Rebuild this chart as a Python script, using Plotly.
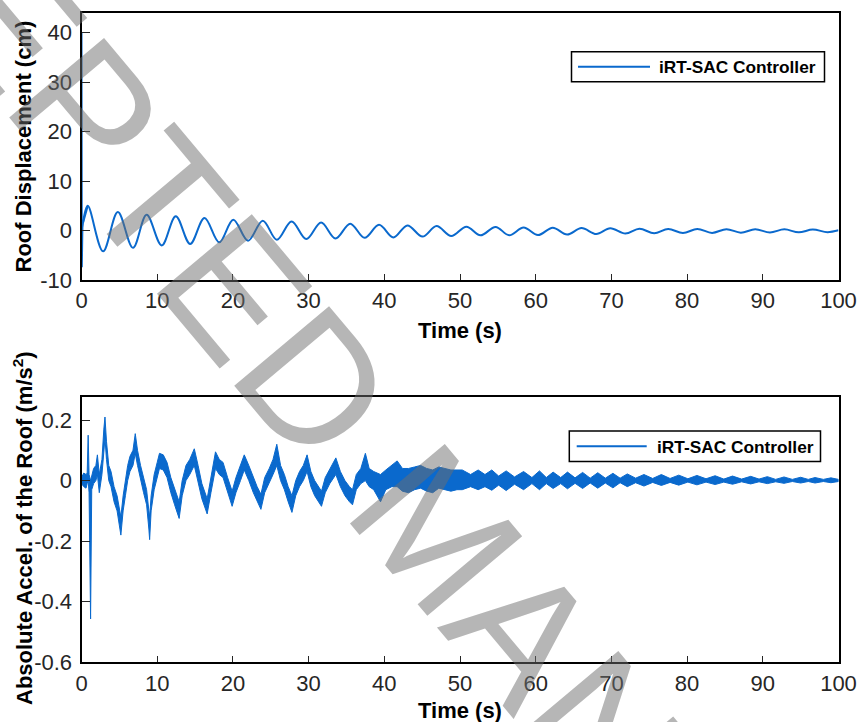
import plotly.graph_objects as go

W, H = 860, 722

# ---- Roof displacement (cm): initial spike, then alternating peaks / troughs
disp_t = [0.0, 0.04, 0.12, 0.2,
          0.83, 2.85, 4.8, 6.8, 8.6, 10.6, 12.45, 14.35, 16.25, 18.2,
          20.05, 22.0, 23.95, 25.8, 27.75, 29.7, 31.65, 33.55, 35.5, 37.4,
          39.3, 41.2, 43.05, 45.05, 46.9, 48.85, 50.85, 52.7, 54.7, 56.5,
          58.4, 60.3, 62.25, 64.15, 66.05, 68.0, 69.85, 71.85, 73.7, 75.65,
          77.5, 79.45, 81.35, 83.3, 85.2, 87.1, 89.0, 90.95, 92.85, 94.75,
          96.6, 98.55, 100.0]
disp_cm = [40.0, -7.4, 0.6, 1.6,
           5.0, -4.2, 3.75, -3.5, 3.2, -3.0, 2.9, -2.7, 2.55, -2.38,
           2.2, -2.05, 2.0, -1.85, 1.85, -1.72, 1.62, -1.6, 1.38, -1.48,
           1.18, -1.38, 1.04, -1.22, 0.92, -1.1, 0.79, -0.96, 0.73, -0.95,
           0.62, -0.92, 0.58, -0.8, 0.5, -0.7, 0.46, -0.62, 0.38, -0.56,
           0.33, -0.5, 0.33, -0.48, 0.28, -0.42, 0.25, -0.38, 0.24, -0.36,
           0.2, -0.32, 0.05]
# number of leading samples that form the initial impulse (drawn straight)
n_impulse = 4

# ---- Absolute roof acceleration (m/s^2): upper and lower edge of the trace band
acc_t = [0.0, 0.3, 0.6, 0.75, 0.88, 1.0, 1.2, 1.35, 1.6, 1.9, 2.1, 2.35, 2.7,
         2.95, 3.1, 3.3, 3.6, 3.9, 4.3, 4.7, 5.0, 5.2, 5.5, 5.8, 6.1, 6.4,
         6.8, 7.1, 7.4, 7.8, 8.2, 8.6, 8.9, 9.0, 9.2, 9.6, 10.0, 10.3, 10.8,
         11.3, 11.8, 12.3, 12.9, 13.3, 13.8, 14.3, 14.9, 15.4, 15.9, 16.6,
         17.1, 17.7, 18.2, 18.7, 19.3, 19.9, 20.4, 21.0, 21.5, 22.1, 22.7,
         23.2, 23.7, 24.2, 24.8, 25.3, 25.8, 26.3, 26.8, 27.3, 27.8, 28.3,
         28.8, 29.3, 29.8, 30.3, 30.8, 31.3, 31.7, 32.2, 32.8, 33.6, 34.2,
         34.8, 35.4, 35.8, 36.3, 36.9, 37.5, 38.0, 38.6, 39.5, 40.2, 41.0,
         41.7, 42.4, 43.2, 44.0, 44.8, 45.6, 46.4, 47.2, 48.0, 48.8, 49.6,
         50.3, 51.4, 52.4, 53.3, 54.2, 55.1, 56.1, 57.2, 58.4, 59.5, 60.5,
         61.4, 62.3, 63.3, 64.2, 65.2, 66.2, 67.2, 68.2, 69.2, 70.2, 71.15,
         72.1, 73.2, 74.3, 75.45, 76.6, 77.75, 78.9, 80.1, 81.3, 82.5, 83.7,
         84.85, 86.0, 87.2, 88.4, 89.5, 90.6, 91.7, 92.8, 93.9, 95.0, 96.0,
         96.9, 98.0, 99.0, 100.0]
acc_hi = [0.01, 0.025, 0.02, 0.025, 0.15, 0.02, 0.0, 0.02, 0.04, 0.05, 0.085,
          0.02, 0.07, 0.17, 0.21, 0.13, 0.05, 0.03, -0.02, -0.05, -0.09,
          -0.12, -0.05, 0.0, 0.05, 0.08, 0.1, 0.155, 0.1, 0.05, 0.01,
          -0.03, -0.1, -0.12, -0.05, 0.02, 0.06, 0.09, 0.085, 0.06, 0.01,
          -0.03, -0.07, 0.0, 0.05, 0.07, 0.105, 0.05, -0.01, -0.06, 0.01,
          0.095, 0.07, 0.06, 0.01, -0.035, 0.01, 0.05, 0.085, 0.05, 0.01,
          -0.02, -0.045, 0.01, 0.04, 0.07, 0.12, 0.05, 0.02, -0.02, -0.05,
          0.0, 0.03, 0.05, 0.085, 0.03, 0.0, -0.02, -0.035, 0.01, 0.04,
          0.075, 0.03, 0.0, -0.02, -0.03, 0.02, 0.04, 0.09, 0.04, 0.03, 0.02,
          0.035, 0.05, 0.065, 0.04, 0.04, 0.045, 0.05, 0.04, 0.035, 0.045,
          0.04, 0.035, 0.035,
          0.035, 0.02, 0.035, 0.02, 0.035, 0.015, 0.032, 0.012, 0.03, 0.01,
          0.032, 0.01, 0.028, 0.01, 0.028, 0.009, 0.027, 0.008, 0.026,
          0.008, 0.024, 0.008, 0.022, 0.008, 0.02, 0.007, 0.02, 0.007,
          0.018, 0.006, 0.017, 0.006, 0.016, 0.005, 0.015, 0.005, 0.014,
          0.005, 0.013, 0.004, 0.012, 0.004, 0.011, 0.004, 0.01, 0.004,
          0.009, 0.004]
acc_lo = [-0.01, -0.02, -0.025, -0.01, 0.0, -0.04, -0.457, -0.03, -0.01,
          0.0, 0.02, -0.04, 0.02, 0.1, 0.14, 0.07, 0.0, -0.02, -0.07,
          -0.1, -0.15, -0.18, -0.1, -0.05, 0.0, 0.03, 0.05, 0.09, 0.05,
          0.0, -0.04, -0.08, -0.16, -0.195, -0.1, -0.03, 0.01, 0.04, 0.035,
          0.01, -0.04, -0.08, -0.125, -0.05, 0.0, 0.02, 0.05, 0.0, -0.06,
          -0.11, -0.04, 0.04, 0.02, 0.01, -0.04, -0.085, -0.04, 0.0, 0.035,
          0.0, -0.04, -0.07, -0.095, -0.04, -0.01, 0.02, 0.05, 0.0, -0.03,
          -0.07, -0.105, -0.05, -0.02, 0.0, 0.03, -0.02, -0.05, -0.07,
          -0.085, -0.04, -0.01, 0.02, -0.02, -0.05, -0.07, -0.08, -0.03,
          -0.01, 0.0, -0.02, -0.03, -0.07, -0.03, -0.02, -0.02, -0.035,
          -0.04, -0.03, -0.025, -0.035, -0.04, -0.025, -0.03, -0.035, -0.03,
          -0.03, -0.02, -0.03, -0.02, -0.032, -0.015, -0.033, -0.012, -0.03,
          -0.01, -0.03, -0.01, -0.026, -0.01, -0.027, -0.009, -0.026,
          -0.008, -0.025, -0.008, -0.024, -0.007, -0.02, -0.007, -0.018,
          -0.006, -0.016, -0.006, -0.015, -0.005, -0.014, -0.005, -0.013,
          -0.005, -0.012, -0.004, -0.011, -0.004, -0.01, -0.004, -0.009,
          -0.003, -0.008, -0.003, -0.008, -0.003, -0.007, -0.003]

x_ticks = [0, 10, 20, 30, 40, 50, 60, 70, 80, 90, 100]
disp_ticks = [-10, 0, 10, 20, 30, 40]
disp_tick_text = ["-10", "0", "10", "20", "30", "40"]
acc_ticks = [-0.6, -0.4, -0.2, 0, 0.2]
acc_tick_text = ["-0.6", "-0.4", "-0.2", "0", "0.2"]

series_name = "iRT-SAC Controller"
BLUE = "rgb(10,105,205)"
FONT = "Liberation Sans, Arial, sans-serif"


def px(x):
    return x / W


def py(y):
    return 1 - y / H


fig = go.Figure()

# impulse at the start drawn with straight segments, free vibration smoothed
fig.add_trace(go.Scatter(
    x=disp_t[:n_impulse + 1], y=disp_cm[:n_impulse + 1], mode="lines",
    name=series_name, line=dict(color=BLUE, width=2),
    xaxis="x", yaxis="y", showlegend=False))
fig.add_trace(go.Scatter(
    x=disp_t[n_impulse - 1:], y=disp_cm[n_impulse - 1:], mode="lines",
    name=series_name,
    line=dict(color=BLUE, width=2, shape="spline", smoothing=1.0),
    xaxis="x", yaxis="y", showlegend=False))

band_x = acc_t + acc_t[::-1]
band_y = acc_hi + acc_lo[::-1]
fig.add_trace(go.Scatter(
    x=band_x, y=band_y, mode="lines", name=series_name, fill="toself",
    fillcolor=BLUE, line=dict(color=BLUE, width=1),
    xaxis="x2", yaxis="y2", showlegend=False))

axis_common = dict(
    showline=True, linecolor="black", linewidth=2, mirror=True,
    ticks="inside", tickcolor="#262626", tickwidth=1,
    showgrid=False, zeroline=False, automargin=False,
    tickfont=dict(family=FONT, size=22, color="#262626"),
)

x_dom = [px(81.5), px(838.5)]
fig.update_layout(
    template="none",
    width=W, height=H,
    margin=dict(l=0, r=0, t=0, b=0, pad=0),
    paper_bgcolor="white", plot_bgcolor="white",
    font=dict(family=FONT),
    xaxis=dict(domain=x_dom, range=[0, 100], tickvals=x_ticks, ticklen=6,
               anchor="y", ticklabelstandoff=0, **axis_common),
    yaxis=dict(domain=[py(280), py(13)], range=[-10, 44],
               tickvals=disp_ticks, ticktext=disp_tick_text, ticklen=8,
               anchor="x", ticklabelstandoff=3, **axis_common),
    xaxis2=dict(domain=x_dom, range=[0, 100], tickvals=x_ticks, ticklen=6,
                anchor="y2", ticklabelstandoff=0, **axis_common),
    yaxis2=dict(domain=[py(662.3), py(396.7)], range=[-0.6, 0.277],
                tickvals=acc_ticks, ticktext=acc_tick_text, ticklen=8,
                anchor="x2", ticklabelstandoff=3, **axis_common),
)

title_font = dict(family=FONT, size=22, color="black")
annots = [
    dict(text="<b>Time (s)</b>", x=px(460), y=py(330)),
    dict(text="<b>Time (s)</b>", x=px(460), y=py(710)),
    dict(text="<b>Roof Displacement (cm)</b>", x=px(23), y=py(146.5),
         textangle=-90),
    dict(text="<b>Absolute Accel. of the Roof (m/s<sup>2</sup>)</b>",
         x=px(23), y=py(528), textangle=-90),
]
for a in annots:
    fig.add_annotation(xref="paper", yref="paper", showarrow=False,
                       xanchor="center", yanchor="middle",
                       font=title_font, **a)

# legend boxes (line sample + label) for both panels
legend_boxes = [
    dict(x0=571.5, x1=824.5, y0=51.7, y1=81.7, lx0=578, lx1=650, tx=657),
    dict(x0=569.3, x1=820.5, y0=431.0, y1=461.5, lx0=576.7, lx1=646.7, tx=655),
]
for lb in legend_boxes:
    fig.add_shape(type="rect", xref="paper", yref="paper",
                  x0=px(lb["x0"]), x1=px(lb["x1"]),
                  y0=py(lb["y1"]), y1=py(lb["y0"]),
                  line=dict(color="black", width=1.5), fillcolor="white")
    ym = (lb["y0"] + lb["y1"]) / 2
    fig.add_shape(type="line", xref="paper", yref="paper",
                  x0=px(lb["lx0"]), x1=px(lb["lx1"]), y0=py(ym), y1=py(ym),
                  line=dict(color=BLUE, width=2))
    fig.add_annotation(xref="paper", yref="paper", showarrow=False,
                       x=px(lb["tx"]), y=py(ym + 0.5), xanchor="left",
                       yanchor="middle", text="<b>" + series_name + "</b>",
                       font=dict(family=FONT, size=17.3, color="black"))

# diagonal manuscript watermark
fig.add_annotation(xref="paper", yref="paper", showarrow=False,
                   x=px(440), y=py(533), xanchor="center", yanchor="middle",
                   text="ACCEPTED MANUSCRIPT", textangle=50,
                   font=dict(family=FONT, size=180,
                             color="rgba(110,110,110,0.5)"))

fig.write_html("out.html")
